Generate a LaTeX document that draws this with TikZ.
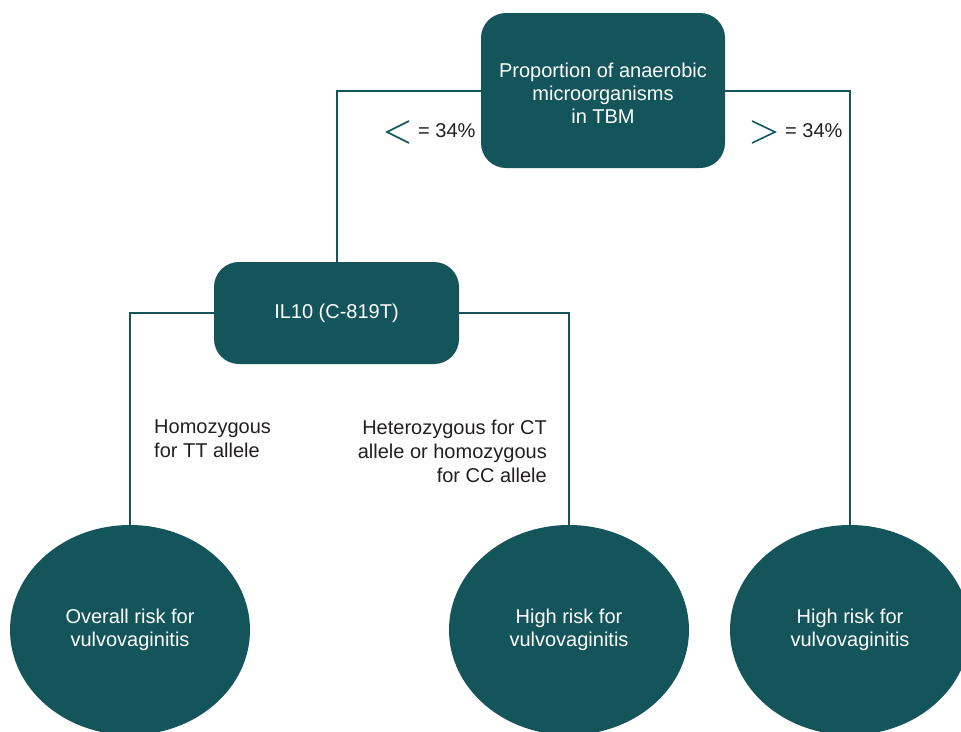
\documentclass[tikz,border=0pt]{standalone}
\usepackage{fontspec}
\setmainfont{Liberation Sans}
\usetikzlibrary{shapes.geometric}
\definecolor{teal1}{HTML}{13555B}
\definecolor{txtgray}{HTML}{231F20}
\tikzset{
  box/.style={fill=teal1, draw=none, rounded corners=25pt, text=white, align=center, font=\fontsize{20}{23}\selectfont},
  oval/.style={ellipse, fill=teal1, draw=none, text=white, align=center, minimum width=240pt, minimum height=210pt, inner sep=0pt, font=\fontsize{20}{23}\selectfont},
  conn/.style={draw=teal1, line width=2pt},
  lbl/.style={text=txtgray, font=\fontsize{20}{24}\selectfont, inner sep=0pt},
  chev/.style={draw=teal1, line width=1.6pt}
}
\begin{document}
\begin{tikzpicture}[x=1pt,y=-1pt]
\useasboundingbox (0,0) rectangle (961,731);
\clip (0,0) rectangle (961,731);
\node[box, minimum width=244pt, minimum height=155pt] (top) at (603,90.5) {};
\node[box, minimum width=245pt, minimum height=102pt] (il) at (336.5,313) {IL10 (C-819T)};
\node[oval] (e1) at (130,630) {Overall risk for\\vulvovaginitis};
\node[oval] (e2) at (569,630) {High risk for\\vulvovaginitis};
\node[oval] (e3) at (850,630) {High risk for\\vulvovaginitis};
\draw[conn] (top.west) -| (il.north);
\draw[conn] (top.east) -| (e3.north);
\draw[conn] (il.west) -| (e1.north);
\draw[conn] (il.east) -| (e2.north);
\node[text=white, align=center, font=\fontsize{20}{23}\selectfont] (toptxt) at (603,93) {Proportion of anaerobic\\microorganisms\\in TBM};
\coordinate (lt) at (409,121);
\coordinate (lc) at (387,132);
\coordinate (lb) at (409,143);
\draw[chev] (lt) -- (lc) -- (lb);
\node[lbl, anchor=west] (lv) at (418,131) {= 34\%};
\coordinate (rt) at (752,121);
\coordinate (rc) at (775,132);
\coordinate (rb) at (752,143);
\draw[chev] (rt) -- (rc) -- (rb);
\node[lbl, anchor=west] (rv) at (785,131) {= 34\%};
\node[lbl, anchor=north west, align=left] (hom) at (154,420) {Homozygous\\for TT allele};
\node[lbl, anchor=north east, align=right] (het) at (547,420) {Heterozygous for CT\\allele or homozygous\\for CC allele};
\end{tikzpicture}
\end{document}
